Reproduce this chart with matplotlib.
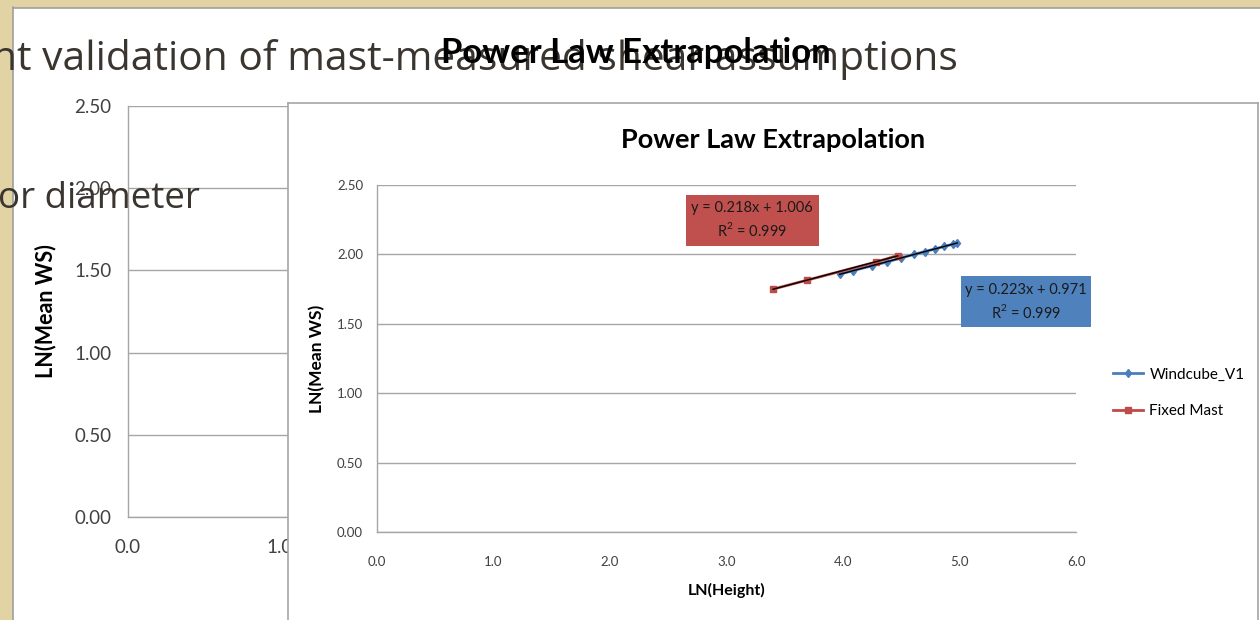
import matplotlib
matplotlib.use("Agg")
import matplotlib.pyplot as plt
from matplotlib.patches import Rectangle
import numpy as np

# data
wind_x = [3.97, 4.09, 4.25, 4.38, 4.50, 4.61, 4.70, 4.79, 4.87, 4.94, 4.98]
wind_y = [1.857, 1.884, 1.918, 1.946, 1.975, 2.000, 2.020, 2.040, 2.057, 2.073, 2.083]
mast_x = [3.40, 3.69, 4.28, 4.47]
mast_y = [1.750, 1.814, 1.944, 1.992]
wind_eq = "y = 0.223x + 0.971\nR$^2$ = 0.999"
mast_eq = "y = 0.218x + 1.006\nR$^2$ = 0.999"
y_ticks = [0.0, 0.5, 1.0, 1.5, 2.0, 2.5]
x_ticks = [0, 1, 2, 3, 4, 5, 6]

W, H = 1260, 620
chart_font = ['Lato', 'DejaVu Sans']
slide_font = ['Open Sans', 'DejaVu Sans']
grid_c = '#a6a6a6'
blue = '#4a7ebb'
red = '#be4b48'

plt.rcParams['mathtext.fontset'] = 'custom'
plt.rcParams['mathtext.rm'] = 'Lato'

fig = plt.figure(figsize=(W / 100, H / 100), dpi=100)
fig.patch.set_facecolor('white')

def fx(px):
    return px / W

def fy(py):
    return 1 - py / H

# slide frame (beige strips + gray edge)
fig.add_artist(Rectangle((0, 0), fx(12), 1, transform=fig.transFigure, color='#e2d3a5', zorder=-5))
fig.add_artist(Rectangle((0, fy(7)), 1, 7 / H, transform=fig.transFigure, color='#e2d3a5', zorder=-5))
fig.add_artist(plt.Line2D([fx(13), fx(13)], [0, fy(7)], color='#a0a0a0', lw=1.2, zorder=-4))
fig.add_artist(plt.Line2D([fx(13), 1], [fy(8), fy(8)], color='#a0a0a0', lw=1.2, zorder=-4))


def style_axes(ax, tick_size, xpad, ypad):
    ax.set_ylim(0, 2.5)
    ax.set_xlim(0, 6)
    ax.set_yticks(y_ticks)
    ax.set_yticklabels(['%.2f' % v for v in y_ticks])
    ax.set_xticks(x_ticks)
    ax.set_xticklabels(['%.1f' % v for v in x_ticks])
    ax.grid(axis='y', color=grid_c, lw=1.0)
    ax.set_axisbelow(True)
    for s in ['top', 'right']:
        ax.spines[s].set_visible(False)
    for s in ['left', 'bottom']:
        ax.spines[s].set_color(grid_c)
        ax.spines[s].set_linewidth(1.0)
    ax.tick_params(length=0, labelsize=tick_size, colors='#404040')
    ax.tick_params(axis='x', pad=xpad)
    ax.tick_params(axis='y', pad=ypad)
    for lab in ax.get_xticklabels() + ax.get_yticklabels():
        lab.set_family(chart_font)


# back (partially hidden) chart
back = fig.add_axes([fx(128), fy(517), fx(1040 - 128), (517 - 106) / H])
style_axes(back, 13.5, 16, 12)
back.set_ylabel('LN(Mean WS)', fontsize=15.5, fontweight='bold', family=chart_font, labelpad=13)
fig.text(fx(636), fy(53), 'Power Law Extrapolation', ha='center', va='center',
         fontsize=25, fontweight='bold', family=chart_font, color='black')

# slide text lying over the back chart
fig.text(fx(-8), fy(60), 'nt validation of mast-measured shear assumptions', ha='left', va='center',
         fontsize=29.3, family=slide_font, color='#3b3530', zorder=2)
fig.text(fx(-2), fy(199), 'or diameter', ha='left', va='center',
         fontsize=26.5, family=slide_font, color='#3b3530', zorder=2)

# front chart panel
panel = fig.add_axes([fx(288), -0.05, fx(1258 - 288), fy(103) + 0.05])
panel.set_facecolor('white')
panel.set_xticks([])
panel.set_yticks([])
for s in panel.spines.values():
    s.set_color(grid_c)
    s.set_linewidth(1.2)
panel.spines['bottom'].set_visible(False)
panel.set_zorder(3)
# chart title is centred on the whole chart box
panel.text(0.5, fy(140) / (fy(103) + 0.05) + 0.05 / (fy(103) + 0.05), 'Power Law Extrapolation',
           transform=panel.transAxes, ha='center', va='center',
           fontsize=19.5, fontweight='bold', family=chart_font, color='black')

ax = fig.add_axes([fx(377), fy(532), fx(1076 - 377), (532 - 185) / H])
ax.set_zorder(4)
ax.patch.set_alpha(0)
style_axes(ax, 9.5, 17, 10)
ax.set_ylabel('LN(Mean WS)', fontsize=12.5, fontweight='bold', family=chart_font, labelpad=8)
ax.set_xlabel('LN(Height)', fontsize=11.5, fontweight='bold', family=chart_font, labelpad=11)

ax.plot(wind_x, wind_y, color=blue, lw=2, marker='d', ms=4.5, mec=blue, label='Windcube_V1')
ax.plot(mast_x, mast_y, color=red, lw=2, marker='s', ms=5, mec=red, label='Fixed Mast')

# linear trendlines from the data
for xs, ys in [(mast_x, mast_y), (wind_x, wind_y)]:
    k, b = np.polyfit(xs, ys, 1)
    xx = np.array([min(xs), max(xs)])
    ax.plot(xx, k * xx + b, color='black', lw=1.0, zorder=5)

# equation labels
for (x0, y0, x1, y1), fc, txt in [((2.65, 2.06, 3.79, 2.43), '#c0504d', mast_eq),
                                   ((5.01, 1.477, 6.13, 1.844), '#4f81bd', wind_eq)]:
    ax.add_patch(Rectangle((x0, y0), x1 - x0, y1 - y0, facecolor=fc, edgecolor='none',
                           clip_on=False, zorder=6))
    ax.text((x0 + x1) / 2, (y0 + y1) / 2, txt, ha='center', va='center', fontsize=10.5,
            family=chart_font, color='#1a1a1a', linespacing=1.4, zorder=7, clip_on=False)

leg = ax.legend(loc='center left', bbox_to_anchor=(fx(1099), fy(393)), bbox_transform=fig.transFigure,
                frameon=False, handlelength=2.0, labelspacing=1.5, handletextpad=0.4,
                prop={'family': chart_font, 'size': 11})

fig.savefig('out.png', dpi=100)
